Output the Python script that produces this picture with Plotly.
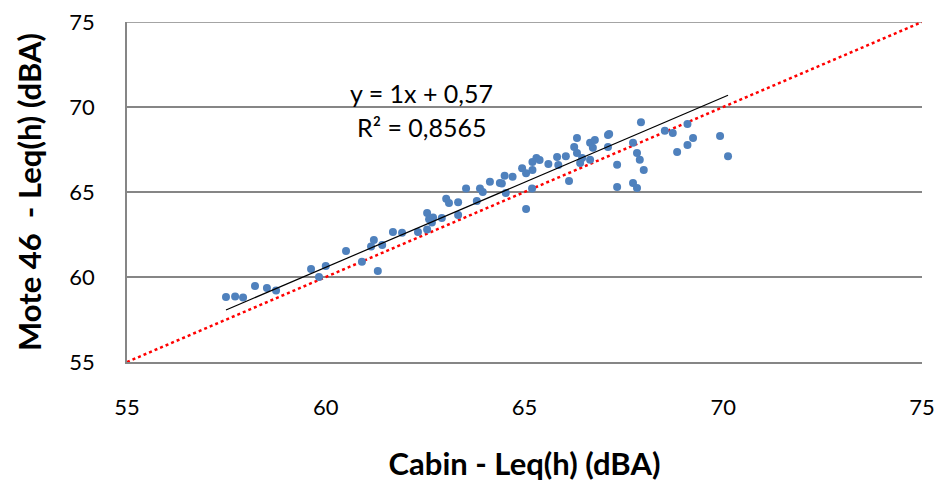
import plotly.graph_objects as go

cabin = [57.49, 57.72, 57.92, 58.22, 58.52, 58.75, 59.63, 59.83, 60.00, 60.51,
         60.91, 61.14, 61.21, 61.42, 61.31, 61.69, 61.92, 62.32, 62.55, 62.55,
         62.60, 62.70, 62.67, 62.92, 63.03, 63.10, 63.33, 63.33, 63.53, 63.80,
         63.88, 63.95, 64.13, 64.43, 64.50, 64.53, 64.70, 64.38, 64.94, 65.04,
         65.04, 65.20, 65.20, 65.19, 65.30, 65.38, 65.60, 65.82, 65.85, 66.04,
         66.12, 66.25, 66.32, 66.32, 66.40, 66.45, 66.65, 66.77, 66.72, 66.65,
         67.10, 67.10, 67.13, 67.33, 67.33, 67.73, 67.83, 67.90, 68.00, 67.73,
         67.83, 67.93, 68.53, 68.73, 69.10, 69.24, 69.10, 68.84, 69.92, 70.12]
mote46 = [58.82, 58.85, 58.80, 59.47, 59.35, 59.20, 60.47, 60.00, 60.65, 61.53,
          60.90, 61.80, 62.18, 61.88, 60.35, 62.65, 62.60, 62.65, 62.80, 63.76,
          63.40, 63.50, 63.20, 63.47, 64.60, 64.35, 64.40, 63.65, 65.20, 64.47,
          65.20, 65.00, 65.60, 65.50, 65.95, 64.94, 65.90, 65.53, 66.40, 66.10,
          64.00, 66.30, 66.76, 65.20, 67.00, 66.88, 66.65, 67.06, 66.59, 67.10,
          65.65, 67.65, 68.18, 67.30, 66.70, 67.00, 67.90, 68.06, 67.60, 66.90,
          68.35, 67.65, 68.41, 66.60, 65.30, 67.90, 67.30, 66.90, 66.30, 65.53,
          65.24, 69.10, 68.60, 68.47, 69.00, 68.18, 67.76, 67.35, 68.30, 67.10]

slope = 1.0
intercept = 0.57
r2_text = "R² = 0,8565"
eq_text = "y = 1x + 0,57"
tick_vals = [55, 60, 65, 70, 75]

trend_x = [min(cabin), max(cabin)]
trend_y = [slope * v + intercept for v in trend_x]
ident = [55, 75]

font = "Lato, 'Open Sans', sans-serif"

fig = go.Figure()
fig.add_trace(go.Scatter(x=ident, y=ident, mode="lines",
                         line=dict(color="#ff0000", width=2.5, dash="dot"),
                         hoverinfo="skip", showlegend=False, cliponaxis=False))
fig.add_trace(go.Scatter(x=cabin, y=mote46, mode="markers",
                         marker=dict(color="#4f81bd", size=8),
                         showlegend=False))
fig.add_trace(go.Scatter(x=trend_x, y=trend_y, mode="lines",
                         line=dict(color="#000000", width=1.2),
                         hoverinfo="skip", showlegend=False))

fig.add_annotation(x=62.42, y=70.82, text=eq_text, showarrow=False,
                   font=dict(family=font, size=25, color="#000"))
fig.add_annotation(x=62.42, y=68.85, text=r2_text, showarrow=False,
                   font=dict(family=font, size=25, color="#000"))

# top gridline at the upper end of the y range
fig.add_shape(type="line", xref="paper", x0=0, x1=1, yref="y",
              y0=tick_vals[-1], y1=tick_vals[-1],
              line=dict(color="#868686", width=1.5), layer="below")

# page body has an 8px default margin, so the figure is sized to fit the window
fig.update_layout(
    width=928, height=480,
    margin=dict(l=119, r=14, t=14, b=126),
    paper_bgcolor="white", plot_bgcolor="white",
    font=dict(family=font, color="#000"),
    xaxis=dict(range=[55, 75], tickvals=tick_vals, showgrid=False,
               showline=True, linecolor="#868686", linewidth=1.5,
               zeroline=False, ticks="", ticklabelstandoff=25,
               automargin=False, ticklabeloverflow="allow",
               tickfont=dict(size=22, family=font),
               title=dict(text="<b>Cabin - Leq(h) (dBA)</b>", standoff=34,
                          font=dict(size=31, family=font))),
    yaxis=dict(range=[55, 75], tickvals=tick_vals, showgrid=True,
               gridcolor="#868686", gridwidth=1.5,
               showline=True, linecolor="#868686", linewidth=1.5,
               zeroline=False, ticks="", ticklabelstandoff=26,
               automargin=False, ticklabeloverflow="allow",
               tickfont=dict(size=22, family=font),
               title=dict(text="<b>Mote 46  - Leq(h) (dBA)</b>", standoff=18,
                          font=dict(size=31, family=font))),
)

fig.write_html("out.html")
